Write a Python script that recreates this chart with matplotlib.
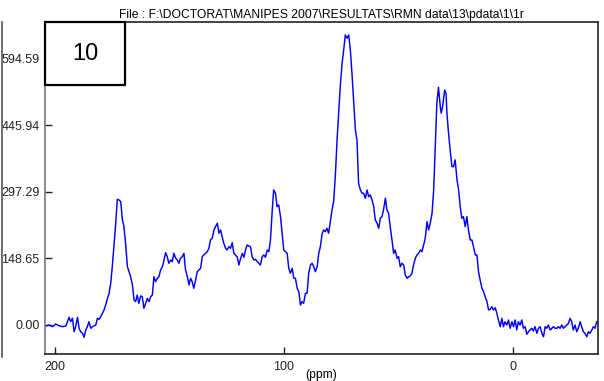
import matplotlib
matplotlib.use("Agg")
import matplotlib.pyplot as plt
from matplotlib.patches import Rectangle
from matplotlib.lines import Line2D

plt.rcParams['font.family'] = ['Liberation Sans', 'DejaVu Sans']

# 13C spectrum, chemical shift (ppm) and intensity
ppm = [
    204.1, 202.6, 201.1, 199.7, 198.3, 196.8, 195.3, 193.9, 193.2, 192.4,
    191.7, 191.0, 190.2, 189.5, 188.8, 188.0, 187.3, 186.6, 185.9, 185.2,
    184.4, 183.7, 182.2, 181.5, 180.8, 180.1, 179.3, 178.6, 177.9, 177.1,
    176.4, 175.7, 175.0, 174.3, 173.5, 172.8, 172.1, 171.3, 170.6, 169.9,
    169.2, 168.4, 167.7, 167.0, 166.2, 165.5, 164.8, 164.1, 163.4, 162.6,
    161.9, 161.2, 160.4, 159.7, 159.0, 158.2, 157.5, 156.8, 156.1, 155.3,
    154.6, 153.9, 153.1, 152.4, 151.7, 151.0, 150.3, 149.5, 148.8, 148.1,
    147.3, 146.6, 145.9, 145.2, 144.4, 143.7, 143.0, 142.2, 141.5, 140.8,
    140.1, 139.4, 138.6, 137.9, 137.2, 136.4, 135.7, 135.0, 134.3, 133.5,
    132.8, 132.1, 131.3, 130.6, 129.9, 129.1, 128.4, 127.7, 127.0, 126.3,
    125.5, 124.8, 124.1, 123.3, 122.6, 121.9, 121.2, 120.4, 119.7, 119.0,
    118.2, 117.5, 116.8, 116.1, 115.4, 114.6, 113.9, 113.2, 112.4, 111.7,
    111.0, 110.3, 109.5, 108.8, 108.1, 107.3, 106.6, 105.9, 105.2, 104.5,
    103.7, 103.0, 102.3, 101.5, 100.8, 100.1, 99.3, 98.6, 97.9, 97.2,
    96.4, 95.7, 95.0, 94.2, 93.5, 92.8, 92.1, 91.4, 90.6, 89.9,
    89.2, 88.4, 87.7, 87.0, 86.3, 85.5, 84.8, 84.1, 83.3, 82.6,
    81.9, 81.2, 80.5, 79.7, 79.0, 78.3, 77.5, 76.8, 76.1, 75.4,
    74.6, 73.9, 73.2, 72.4, 71.7, 71.0, 70.2, 69.5, 68.8, 68.1,
    67.4, 66.6, 65.9, 65.2, 64.4, 63.7, 63.0, 62.3, 61.5, 60.8,
    60.1, 59.3, 58.6, 57.9, 57.2, 56.5, 55.7, 55.0, 54.3, 53.5,
    52.8, 52.1, 51.4, 50.6, 49.9, 49.2, 48.4, 47.7, 47.0, 46.2,
    45.5, 44.8, 44.1, 43.4, 42.6, 41.9, 41.2, 40.4, 39.7, 39.0,
    38.3, 37.5, 36.8, 36.1, 35.3, 34.6, 33.9, 33.2, 32.5, 31.7,
    31.3, 30.7, 29.8, 29.2, 28.8, 28.1, 27.4, 26.6, 25.9, 25.2,
    24.4, 23.7, 23.0, 22.3, 21.6, 20.8, 20.1, 19.4, 18.6, 17.9,
    17.2, 16.4, 15.7, 15.0, 14.3, 13.5, 12.8, 12.1, 11.3, 10.6,
    9.9, 9.2, 8.5, 7.7, 7.0, 6.3, 5.5, 4.8, 4.1, 3.4,
    2.6, 1.9, 1.2, 0.4, -0.3, -1.0, -1.7, -2.4, -3.2, -3.9,
    -4.6, -5.4, -6.1, -6.8, -7.5, -8.3, -9.0, -9.7, -10.5, -11.2,
    -11.9, -12.7, -13.4, -14.1, -14.8, -15.5, -16.3, -17.0, -17.7, -18.5,
    -19.2, -19.9, -20.6, -21.4, -22.1, -22.8, -23.6, -24.3, -25.0, -25.7,
    -26.4, -27.2, -27.9, -28.6, -29.4, -30.1, -30.8, -31.5, -32.3, -33.0,
    -33.7, -34.5, -35.2, -35.9, -36.6, -37.2,
]
intensity = [
    -2.2, 0.0, -3.8, 2.2, -1.6, -3.8, -2.2, 17.2, 7.4, 15.0,
    -15.0, -3.8, 17.2, -7.4, -15.0, -18.6, -27.5, -11.2, -3.8, 7.4,
    -7.4, -3.8, 0.0, 15.0, 12.7, 18.6, 26.2, 33.5, 44.7, 59.7,
    70.9, 93.2, 130.3, 175.0, 227.3, 280.9, 279.4, 275.6, 234.7, 219.7,
    182.6, 130.3, 119.1, 108.0, 89.4, 55.9, 52.1, 67.1, 48.5, 65.0,
    63.3, 37.3, 48.5, 59.7, 52.1, 63.3, 67.1, 108.0, 96.8, 104.4,
    108.0, 122.9, 130.3, 145.3, 161.6, 152.7, 137.9, 145.3, 141.5, 160.2,
    149.1, 145.3, 137.9, 149.1, 152.7, 160.2, 122.9, 108.0, 89.4, 104.4,
    96.8, 82.0, 100.6, 119.1, 122.9, 126.7, 152.7, 156.5, 160.2, 163.8,
    171.4, 190.0, 193.8, 212.3, 219.7, 227.3, 205.0, 212.3, 197.4, 182.6,
    171.4, 167.6, 175.0, 171.4, 184.0, 160.2, 156.5, 152.0, 134.1, 147.5,
    160.2, 151.3, 167.6, 178.8, 176.6, 175.0, 152.7, 145.3, 146.8, 141.5,
    137.9, 134.1, 152.7, 156.5, 151.3, 167.6, 163.8, 190.0, 249.7, 301.7,
    294.4, 264.4, 268.2, 242.1, 205.0, 167.6, 163.8, 160.2, 126.7, 115.5,
    126.7, 104.4, 104.4, 82.0, 74.4, 44.7, 52.1, 48.5, 70.9, 70.9,
    115.5, 134.1, 137.9, 130.3, 119.1, 130.3, 160.2, 175.0, 205.0, 212.3,
    208.5, 216.1, 205.0, 232.0, 257.0, 275.6, 339.1, 413.5, 473.2, 532.6,
    584.9, 614.6, 648.2, 640.8, 648.2, 614.6, 555.0, 495.5, 435.8, 413.5,
    316.7, 301.7, 294.4, 294.4, 283.2, 301.7, 286.8, 290.6, 279.4, 264.4,
    234.7, 227.3, 216.1, 238.5, 242.1, 257.0, 283.2, 257.0, 249.7, 216.1,
    190.0, 160.2, 167.6, 149.1, 152.7, 130.3, 137.9, 134.1, 111.8, 104.4,
    108.0, 109.5, 115.5, 134.1, 149.1, 156.5, 160.2, 167.6, 163.8, 178.8,
    193.0, 230.9, 212.3, 227.3, 249.7, 301.7, 398.5, 495.5, 531.3, 487.9,
    473.2, 487.9, 525.2, 517.9, 473.2, 428.5, 391.1, 353.8, 353.8, 368.8,
    324.1, 301.7, 264.4, 238.5, 242.1, 219.7, 242.1, 212.3, 190.0, 190.0,
    175.0, 156.5, 156.5, 119.1, 100.6, 82.0, 74.4, 63.3, 52.1, 33.5,
    35.1, 40.9, 33.5, 38.7, 26.2, 11.2, -3.8, 15.0, -3.8, 7.4,
    0.0, 11.2, -7.4, 7.4, -3.8, 11.2, -11.2, 7.4, 0.0, 11.2,
    -7.4, -3.8, -20.8, -15.0, -11.2, -7.4, -13.4, -3.8, -18.6, -7.4,
    -3.8, -18.6, -26.2, -3.8, -7.4, 0.0, -11.2, -7.4, -3.8, -7.4,
    -7.4, -3.8, -7.4, 0.0, -7.4, -3.8, 0.0, 3.8, 15.0, 7.4,
    -11.2, 0.0, -15.0, -7.4, 7.4, -3.8, -15.0, -18.6, -26.2, -15.0,
    -18.6, -11.2, -3.8, -7.4, 7.4, 3.8,
]

y_ticks = [0.00, 148.65, 297.29, 445.94, 594.59]
x_ticks = [200, 100, 0]
title = r"File : F:\DOCTORAT\MANIPES 2007\RESULTATS\RMN data\13\pdata\1\1r"
panel = "10"

fig = plt.figure(figsize=(6.04, 3.81), dpi=100)
ax = fig.add_axes([45 / 604, 27 / 381, 553 / 604, 332 / 381])

ax.plot(ppm, intensity, color='#0000ff', lw=1.05)

ax.set_xlim(204.4, -37.2)
ax.set_ylim(-64.8, 677)

ax.set_xticks(x_ticks)
ax.set_xticklabels([str(v) for v in x_ticks])
ax.set_yticks(y_ticks)
ax.set_yticklabels(['%.2f' % v for v in y_ticks])
ax.tick_params(axis='both', direction='in', length=5, width=1, labelsize=9,
               colors='#222222')
ax.tick_params(axis='x', pad=5)
ax.tick_params(axis='y', pad=4)

for side in ['top', 'right', 'bottom']:
    ax.spines[side].set_color('#222222')
    ax.spines[side].set_linewidth(1.2)
ax.spines['left'].set_color('#777777')
ax.spines['left'].set_linewidth(1.2)

ax.set_title(title, fontsize=8.7, pad=3)
ax.text(0.5, -0.064, '(ppm)', transform=ax.transAxes, ha='center',
        va='center', fontsize=8.7)

# panel number box in the upper left corner
box = Rectangle((0, 0.81), 0.1447, 0.19, transform=ax.transAxes,
                facecolor='white', edgecolor='black', lw=1.6,
                clip_on=False, zorder=5)
ax.add_patch(box)
ax.text(0.0723, 0.905, panel, transform=ax.transAxes, ha='center',
        va='center', fontsize=17, zorder=6)

# outer frame line at the left edge
fig.add_artist(Line2D([1.5 / 604, 1.5 / 604], [24 / 381, 359 / 381],
                      color='#555555', lw=1.2))

fig.savefig('out.png', dpi=100)
